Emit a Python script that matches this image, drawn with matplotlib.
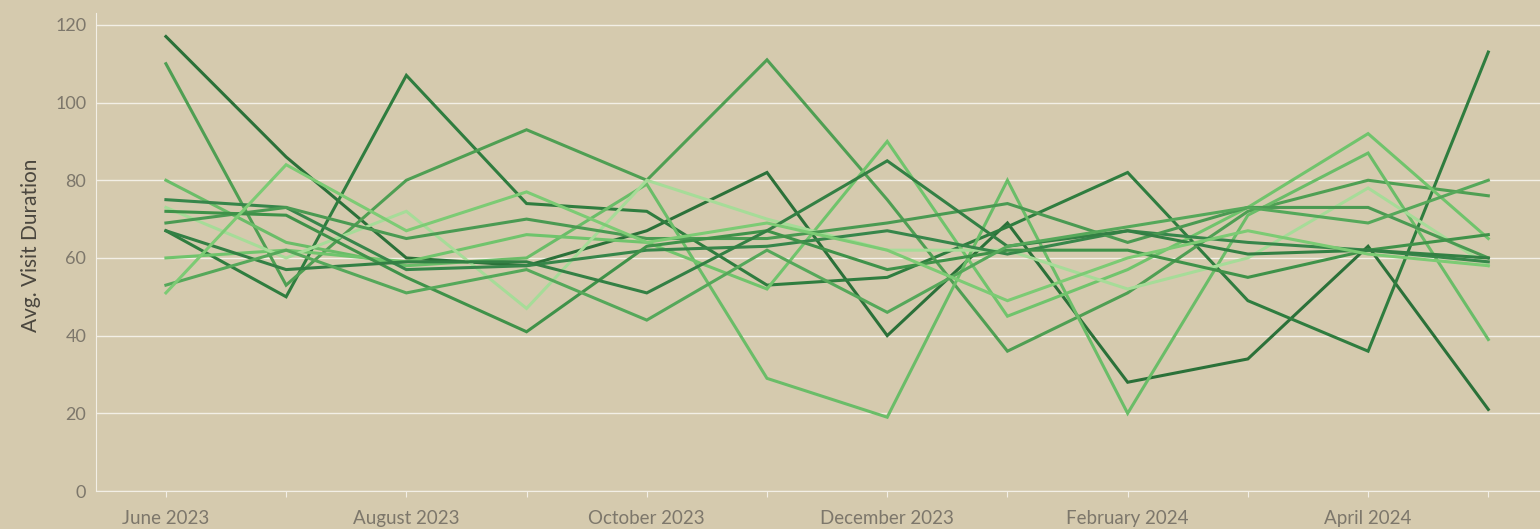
import numpy as np
import matplotlib
matplotlib.use("Agg")
import matplotlib.pyplot as plt

plt.rcParams['font.family'] = ['Lato', 'DejaVu Sans']

# months on the x axis
months = ["June 2023", "July 2023", "August 2023", "September 2023", "October 2023",
          "November 2023", "December 2023", "January 2024", "February 2024",
          "March 2024", "April 2024", "May 2024"]

# avg visit duration per series
s1 = [117, 86, 60, 58, 67, 82, 40, 69, 28, 34, 63, 21]
s2 = [67, 50, 107, 74, 72, 53, 55, 68, 82, 49, 36, 113]
s3 = [110, 53, 80, 93, 80, 111, 75, 36, 51, 72, 80, 76]
s4 = [80, 64, 58, 60, 79, 29, 19, 80, 20, 71, 87, 39]
s5 = [60, 62, 59, 66, 64, 52, 90, 45, 57, 73, 92, 65]
s6 = [73, 60, 72, 47, 80, 70, 62, 62, 52, 60, 78, 58]
s7 = [75, 73, 57, 58, 62, 63, 67, 61, 67, 64, 62, 59]
s8 = [69, 73, 65, 70, 65, 65, 69, 74, 64, 73, 73, 60]
s9 = [72, 71, 55, 41, 63, 67, 57, 62, 62, 55, 62, 66]
s10 = [67, 57, 59, 59, 51, 67, 85, 63, 67, 61, 62, 60]
s11 = [53, 62, 51, 57, 44, 62, 46, 63, 68, 73, 69, 80]
s12 = [51, 84, 67, 77, 64, 69, 62, 49, 60, 67, 61, 58]

series = [s1, s2, s3, s4, s5, s6, s7, s8, s9, s10, s11, s12]
colors = ["#2b7139", "#2f7d3f", "#4f9f53", "#6abd68", "#70c46c", "#a6dc98",
          "#37864a", "#4a9a52", "#3f9249", "#338044", "#55a85a", "#7ccb74"]

bg = "#d5caae"
grid_c = "#f3efe6"
tick_c = "#7d776b"

fig = plt.figure(figsize=(15.4, 5.29), dpi=100)
fig.patch.set_facecolor(bg)
ax = fig.add_axes([0.0623, 0.0718, 0.9377, 0.9282])
ax.set_facecolor(bg)

x = np.arange(len(months))
for s, c in zip(series, colors):
    ax.plot(x, s, color=c, linewidth=2.2, solid_joinstyle='miter')

ax.set_xlim(-0.582, 11.43)
ax.set_ylim(0, 126.4)

ax.set_yticks([0, 20, 40, 60, 80, 100, 120])
ax.yaxis.grid(True, color=grid_c, linewidth=1.0)
ax.set_axisbelow(True)

ax.set_xticks(x)
ax.set_xticklabels([m if i % 2 == 0 else "" for i, m in enumerate(months)])

for side in ['top', 'right']:
    ax.spines[side].set_visible(False)
ax.spines['left'].set_color(grid_c)
ax.spines['bottom'].set_color(grid_c)
ax.spines['left'].set_bounds(0, 123)

ax.tick_params(axis='y', length=0, pad=7, labelsize=13, labelcolor=tick_c)
ax.tick_params(axis='x', length=4, color=grid_c, pad=10, labelsize=13.5, labelcolor=tick_c)

ax.set_ylabel("Avg. Visit Duration", fontsize=15, color="#4a463e", labelpad=10)

fig.savefig("out.png", dpi=100, facecolor=bg)
